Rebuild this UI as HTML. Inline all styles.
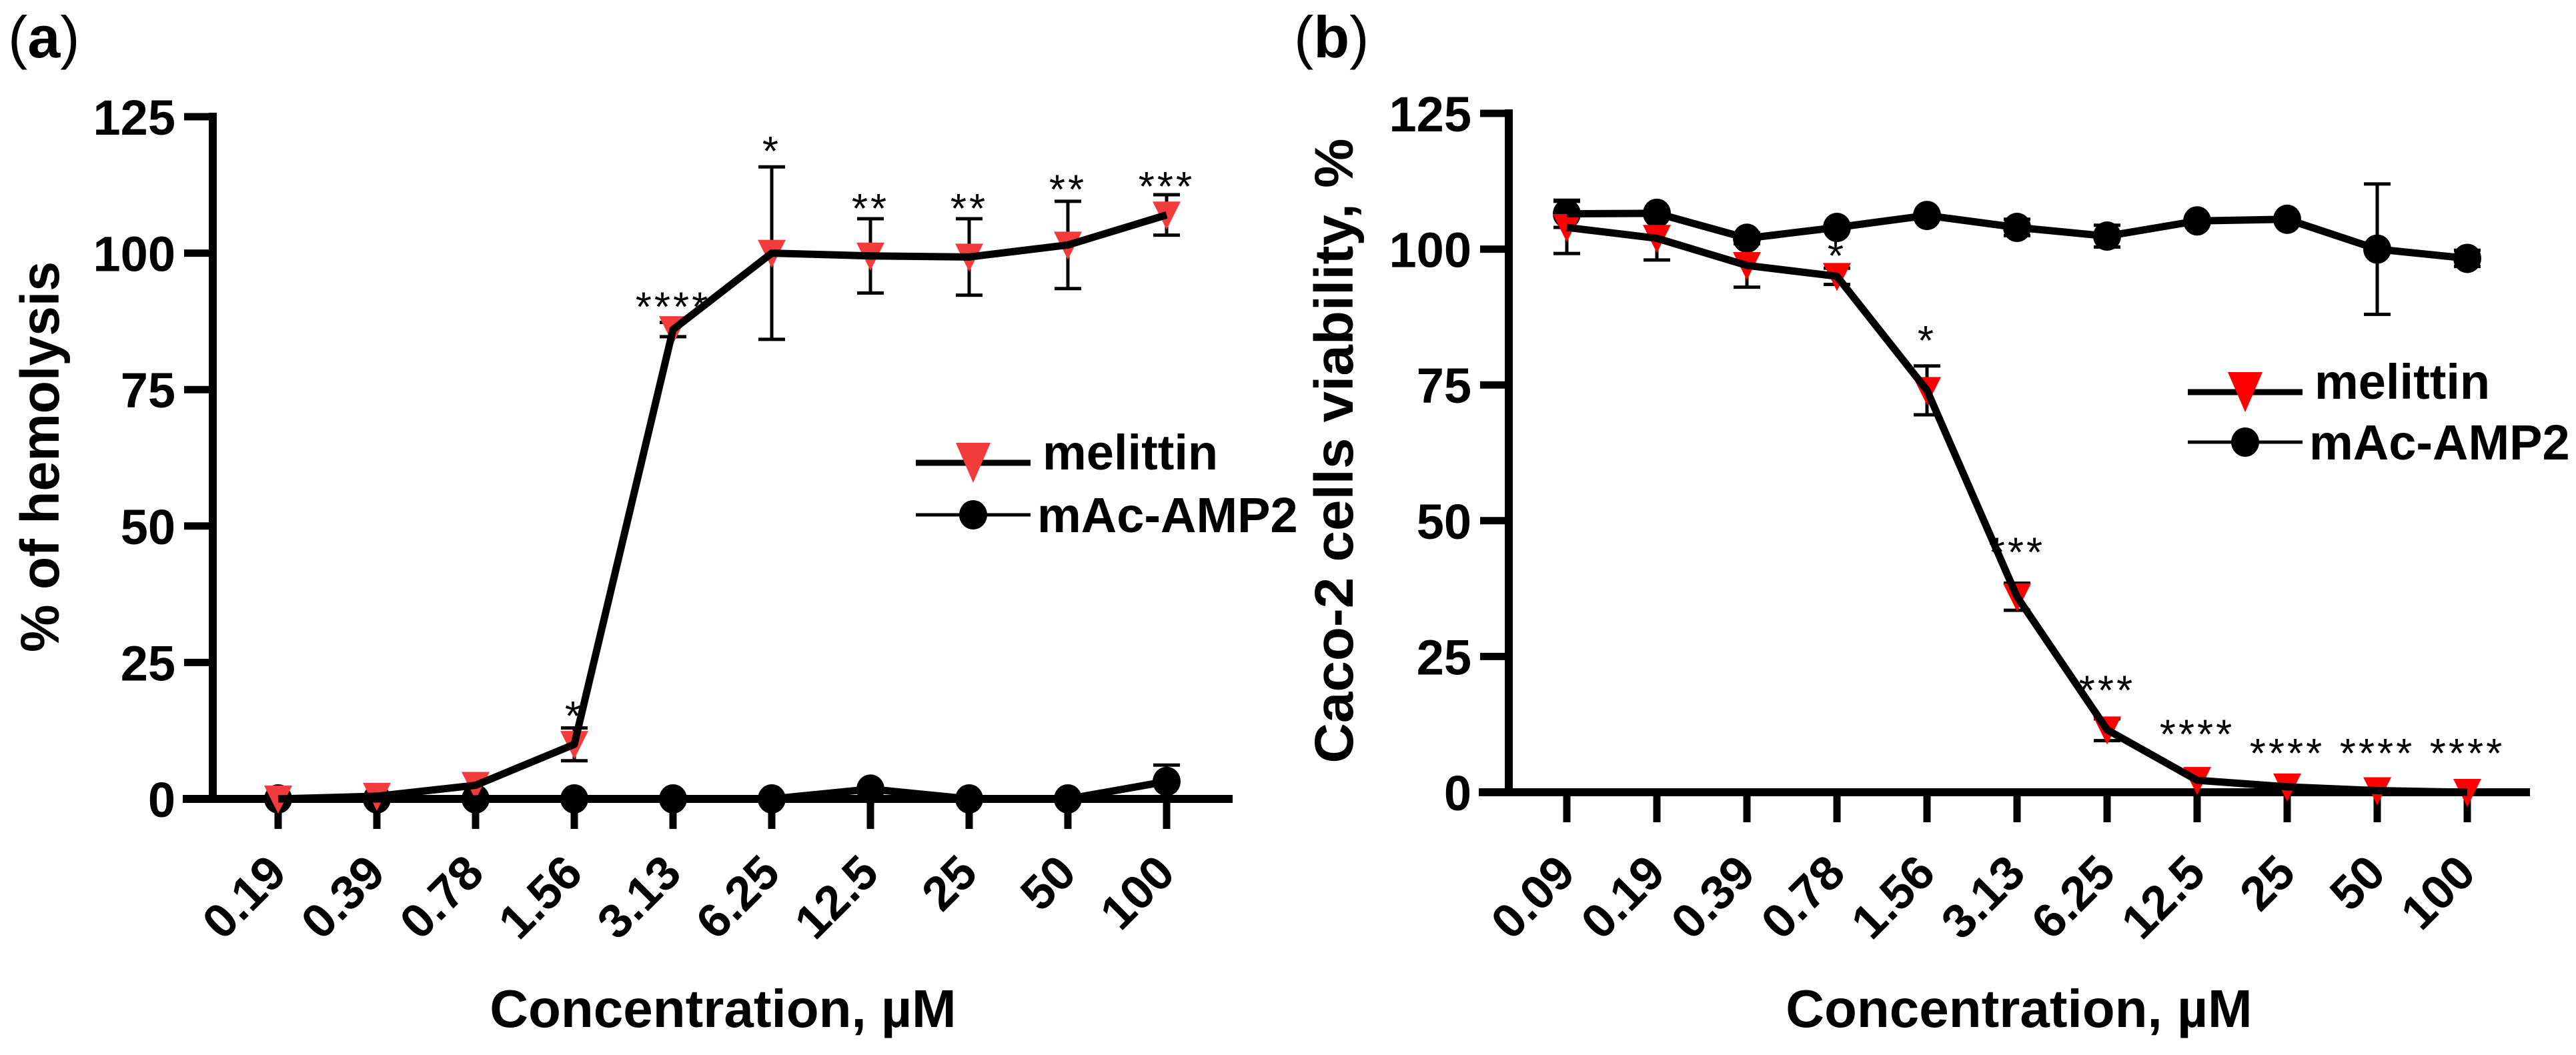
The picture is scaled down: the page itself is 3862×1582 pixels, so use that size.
<!DOCTYPE html>
<html><head><meta charset="utf-8"><style>
html,body{margin:0;padding:0;background:#fff;}
svg{display:block;}
text{font-family:"Liberation Sans",Arial,sans-serif;}
</style></head><body>
<svg id="fig" width="3862" height="1582" viewBox="0 0 3862 1582" xmlns="http://www.w3.org/2000/svg">
<rect width="3862" height="1582" fill="#fff"/>
<g id="pa"></g>
<g id="pb"></g>
</svg>
<script>
// Panel A data
const catsA = ["0.19","0.39","0.78","1.56","3.13","6.25","12.5","25","50","100"];
const melA = [0, 0.5, 2.5, 10, 86, 100, 99.5, 99.3, 101.5, 107];
const melErrA = [0, 0, 0, 3, 1.3, 15.8, 6.8, 7, 8, 3.7];
const ampA = [0, 0, 0, 0, 0, 0, 1.8, 0, 0, 3.2];
const ampErrA = [0, 0, 0, 0, 0, 0, 0, 0, 0, 3];
const starsA = ["", "", "", "*", "****", "*", "**", "**", "**", "***"];
const starYA = [0, 0, 0, 16, 91, 119.5, 109, 109, 112.5, 113];
// Panel B data
const catsB = ["0.09","0.19","0.39","0.78","1.56","3.13","6.25","12.5","25","50","100"];
const melB = [104, 102, 97, 95, 74, 36, 11.5, 2.2, 1, 0.3, 0];
const melErrB = [4.8, 4, 4, 1.5, 4.5, 2.5, 2, 0, 0, 0, 0];
const ampB = [106.5, 106.6, 102, 104, 106.2, 104, 102.4, 105.2, 105.5, 100, 98.3];
const ampErrB = [2.5, 0.5, 1, 0.5, 0.5, 1.5, 2, 0.5, 0.5, 12, 1.5];
const starsB = ["", "", "", "*", "*", "***", "***", "****", "****", "****", "****"];
const starYB = [0, 0, 0, 99.6, 84, 45, 19.6, 11.5, 8, 8, 8];
const yTicks = [0, 25, 50, 75, 100, 125];

const NS = "http://www.w3.org/2000/svg";
function mk(parent, tag, attrs, txt){
  const e = document.createElementNS(NS, tag);
  for (const k in attrs) e.setAttribute(k, attrs[k]);
  if (txt !== undefined) e.textContent = txt;
  parent.appendChild(e);
  return e;
}

function panel(g, cfg){
  const {cats, mel, melErr, amp, ampErr, stars, starY, ax, x0, dx, y0, y125, xEnd, red, ytitle, ytx, yty, ytLen, xtx, label, lx, legX, legY1, legY2} = cfg;
  const X = i => x0 + i*dx;
  const Y = v => y0 - (y0 - y125) * v / 125;

  // axes
  const axes = mk(g, "g", {});
  
  
  mk(axes, "line", {x1: ax, y1: y125-6, x2: ax, y2: y0+6, stroke:"#000", "stroke-width":12});
  mk(axes, "line", {x1: ax-45, y1: y0, x2: xEnd, y2: y0, stroke:"#000", "stroke-width":12});
  yTicks.forEach(t => {
    const y = Y(t);
    const tk = mk(axes, "line", {x1: ax-43, y1: y, x2: ax, y2: y, stroke:"#000", "stroke-width":11});
    
    
    const tl = mk(axes, "text", {x: ax-56, y: y+27, "text-anchor":"end", "font-size":74, "font-weight":"bold"}, String(t));
    
    
  });
  cats.forEach((c, i) => {
    const x = X(i);
    const tk = mk(axes, "line", {x1: x, y1: y0, x2: x, y2: y0+45, stroke:"#000", "stroke-width":11});
    
    
    const px = x + 16, py = 1313;
    const tl = mk(axes, "text", {x: px, y: py, "text-anchor":"end", "font-size":72, "font-weight":"bold", transform:`rotate(-45 ${px} ${py})`}, c);
    
    
  });
  const yt = mk(g, "text", {x: ytx, y: yty, "text-anchor":"middle", "font-size":82, "font-weight":"bold", textLength: ytLen, lengthAdjust:"spacingAndGlyphs", transform:`rotate(-90 ${ytx} ${yty})`}, ytitle);
  
  
  const xt = mk(g, "text", {x: xtx, y: 1540, "text-anchor":"middle", "font-size":80, "font-weight":"bold"}, "Concentration, µM");
  
  
  const pl = mk(g, "text", {x: lx, y: 86, "font-size":88}, "");
  
  
  mk(pl, "tspan", {}, "(");
  mk(pl, "tspan", {"font-weight":"bold"}, label);
  mk(pl, "tspan", {}, ")");

  // error bars
  function errs(vals, errsArr, name){
    vals.forEach((v, i) => {
      const e = errsArr[i];
      if (!e) return;
      const x = X(i), yt2 = Y(v+e), yb = Y(v-e);
      const eb = mk(g, "g", {stroke:"#000", "stroke-width":5});
      
      
      mk(eb, "line", {x1:x, y1:yt2, x2:x, y2:yb});
      mk(eb, "line", {x1:x-20, y1:yt2, x2:x+20, y2:yt2});
      mk(eb, "line", {x1:x-20, y1:yb, x2:x+20, y2:yb});
    });
  }
  errs(amp, ampErr, 'amp-error-bar');
  errs(mel, melErr, 'melittin-error-bar');

  // markers
  amp.forEach((v, i) => {
    const c = mk(g, "ellipse", {cx: X(i), cy: Y(v), rx: 21, ry: 22, fill:"#000"});
    
    
  });
  mel.forEach((v, i) => {
    const x = X(i), y = Y(v);
    const t = mk(g, "polygon", {points:`${x-21},${y-20} ${x+21},${y-20} ${x},${y+22}`, fill: red});
    
    
  });
  // lines
  const ampLine = mk(g, "polyline", {points: amp.map((v,i)=>`${X(i)},${Y(v)}`).join(" "), fill:"none", stroke:"#000", "stroke-width":11, "stroke-linejoin":"round"});
  
  
  const melLine = mk(g, "polyline", {points: mel.map((v,i)=>`${X(i)},${Y(v)}`).join(" "), fill:"none", stroke:"#000", "stroke-width":11, "stroke-linejoin":"round"});
  
  

  // stars
  stars.forEach((s, i) => {
    if (!s) return;
    const st = mk(g, "text", {x: X(i), y: Y(starY[i]) + 28, "text-anchor":"middle", "font-size":62, "letter-spacing":4}, s);
    
    
  });

  // legend
  const lg = mk(g, "g", {});
  
  
  const l1 = mk(lg, "g", {});
  
  
  mk(l1, "line", {x1: legX, y1: legY1, x2: legX+172, y2: legY1, stroke:"#000", "stroke-width":9});
  const cx = legX + 86;
  mk(l1, "polygon", {points:`${cx-26},${legY1-30} ${cx+26},${legY1-30} ${cx},${legY1+30}`, fill: red});
  mk(l1, "text", {x: legX+190, y: legY1+10, "font-size":74, "font-weight":"bold"}, "melittin");
  const l2 = mk(lg, "g", {});
  
  
  mk(l2, "line", {x1: legX, y1: legY2, x2: legX+172, y2: legY2, stroke:"#000", "stroke-width":5});
  mk(l2, "ellipse", {cx: cx, cy: legY2, rx: 21, ry: 22, fill:"#000"});
  mk(l2, "text", {x: legX+182, y: legY2+26, "font-size":74, "font-weight":"bold"}, "mAc-AMP2");
}

panel(document.getElementById("pa"), {
  cats: catsA, mel: melA, melErr: melErrA, amp: ampA, ampErr: ampErrA, stars: starsA, starY: starYA,
  ax: 319, x0: 417, dx: 148, y0: 1198, y125: 175, xEnd: 1848, red: "#f23c3c",
  ytitle: "% of hemolysis", ytx: 88, yty: 685, ytLen: 586, xtx: 1084, label: "a", lx: 12,
  legX: 1373, legY1: 694, legY2: 772
});
panel(document.getElementById("pb"), {
  cats: catsB, mel: melB, melErr: melErrB, amp: ampB, ampErr: ampErrB, stars: starsB, starY: starYB,
  ax: 2262, x0: 2349, dx: 135, y0: 1188, y125: 170, xEnd: 3793, red: "#ff0000",
  ytitle: "Caco-2 cells viability, %", ytx: 2028, yty: 676, ytLen: 937, xtx: 3027, label: "b", lx: 1940,
  legX: 3280, legY1: 588, legY2: 663
});
</script>
</body></html>
